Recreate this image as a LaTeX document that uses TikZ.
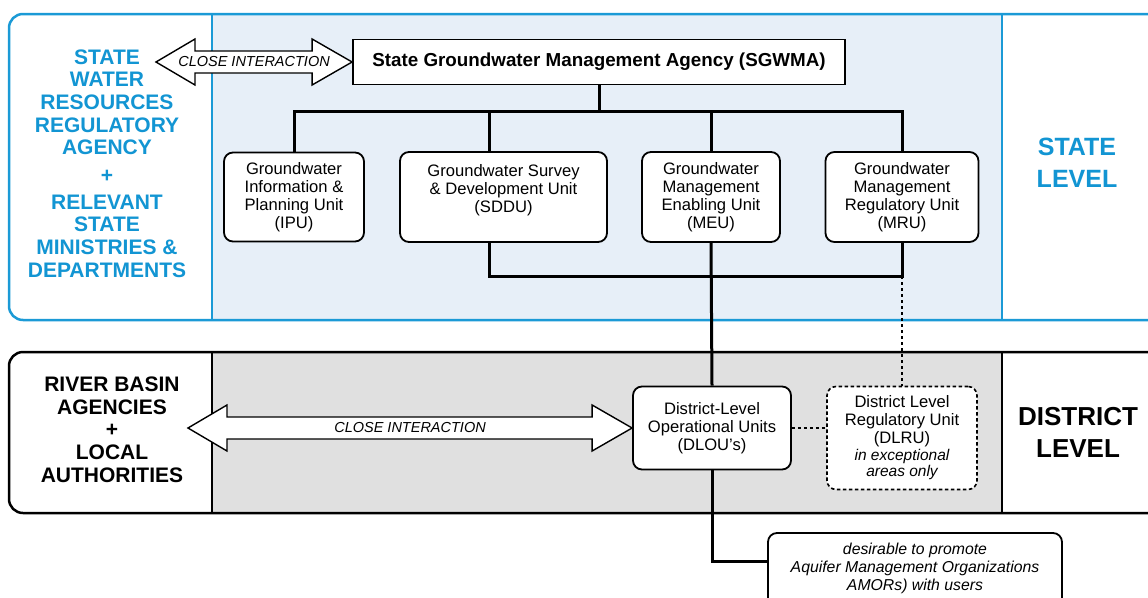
\documentclass[tikz,border=0pt]{standalone}
\usepackage{fontspec}
\setmainfont{Liberation Sans}
\usetikzlibrary{calc}
\definecolor{bord}{HTML}{1B9AD6}
\definecolor{bluetxt}{HTML}{1295D3}
\definecolor{lightbl}{HTML}{E7EFF8}
\definecolor{greyfill}{HTML}{E0E0E0}
\tikzset{
  unitbox/.style={draw=black, line width=1.8pt, fill=white, rounded corners=9pt, align=center, inner sep=2pt, font=\fontsize{16.6}{18}\selectfont},
  conn/.style={draw=black, line width=3pt, line join=miter},
  dotline/.style={draw=black, line width=1.6pt, dash pattern=on 3pt off 3pt},
  fatarrow/.style={fill=white, draw=black, line width=1.4pt, line join=miter},
  ilabel/.style={font=\fontsize{14.5}{16}\selectfont\itshape},
  sidetext/.style={align=center, font=\fontsize{21}{22.7}\selectfont\bfseries},
  leveltext/.style={align=center, font=\fontsize{25}{32}\selectfont\bfseries},
}
\newcommand\fatarrowpath[2]{%
  \path let \p1=(#1), \p2=(#2) in [fatarrow]
    (\x1,\y1) -- (\x1+39,\y1+23) -- (\x1+39,\y1+11) -- (\x2-40,\y1+11) -- (\x2-40,\y1+23)
    -- (\x2,\y1) -- (\x2-40,\y1-23) -- (\x2-40,\y1-11) -- (\x1+39,\y1-11) -- (\x1+39,\y1-23) -- cycle;}
\begin{document}
\begin{tikzpicture}[x=1pt,y=-1pt]
\useasboundingbox (0,0) rectangle (1148,597);
\clip (0,0) rectangle (1148,597);

% ---------- state level band ----------
\fill[white] (9,14) rectangle (1170,320);
\fill[lightbl] (212,14) rectangle (1002,320);
\draw[bord, line width=1.5pt] (212,14) -- (212,320) (1002,14) -- (1002,320);
\draw[bord, line width=2.5pt, rounded corners=14pt] (9,14) rectangle (1170,320);

% ---------- district level band ----------
\fill[white] (9,352) rectangle (1170,513);
\fill[greyfill] (212,352) rectangle (1002,513);
\draw[black, line width=1.5pt] (212,352) -- (212,513) (1002,352) -- (1002,513);
\draw[black, line width=2.5pt, rounded corners=14pt] (9,352) rectangle (1170,513);

% ---------- side texts ----------
\node[sidetext, text=bluetxt] (stateag) at (107,163.5)
  {STATE\\WATER\\RESOURCES\\REGULATORY\\AGENCY\\[4.5pt]+\\[4.5pt]RELEVANT\\STATE\\MINISTRIES \&\\DEPARTMENTS};
\node[sidetext, text=black] (rivbasin) at (112,429.5)
  {RIVER BASIN\\AGENCIES\\+\\LOCAL\\AUTHORITIES};
\node[leveltext, text=bluetxt] (statelevel) at (1077,163) {STATE\\LEVEL};
\node[leveltext, text=black, font=\fontsize{26}{32}\selectfont\bfseries] (distlevel) at (1078,432) {DISTRICT\\LEVEL};

% ---------- nodes ----------
\node[draw=black, line width=1.8pt, fill=white, minimum width=492pt, minimum height=45pt,
      inner sep=0pt, font=\fontsize{18.8}{20}\selectfont\bfseries] (sgwma) at (599,62)
  {State Groundwater Management Agency (SGWMA)};
\node[unitbox, minimum width=140pt, minimum height=89pt] (ipu) at (294,197)
  {Groundwater\\Information \&\\Planning Unit\\(IPU)};
\node[unitbox, minimum width=207pt, minimum height=90pt] (sddu) at (503.5,197)
  {Groundwater Survey\\\& Development Unit\\(SDDU)\\\mbox{}};
\node[unitbox, minimum width=138pt, minimum height=90pt] (meu) at (711,197)
  {Groundwater\\Management\\Enabling Unit\\(MEU)};
\node[unitbox, minimum width=153pt, minimum height=90pt] (mru) at (902,197)
  {Groundwater\\Management\\Regulatory Unit\\(MRU)};
\node[unitbox, minimum width=158pt, minimum height=83pt] (dlou) at (712,428)
  {District-Level\\Operational Units\\(DLOU’s)};
\node[unitbox, dash pattern=on 3.5pt off 2.5pt, line width=1.6pt, fill=white, minimum width=150pt, minimum height=103pt] (dlru) at (902,438)
  {District Level\\Regulatory Unit\\(DLRU)\\[-1pt]{\itshape\fontsize{15.5}{16}\selectfont in exceptional}\\[-2pt]{\itshape\fontsize{15.5}{16}\selectfont areas only}};
\node[unitbox, minimum width=294pt, minimum height=86pt, font=\fontsize{15.8}{18}\selectfont\itshape] (amor) at (915,576)
  {desirable to promote\\Aquifer Management Organizations\\AMORs) with users\\\mbox{}};

% ---------- connectors ----------
\coordinate (busy) at (0,111);
\coordinate (bus2) at (0,276);
\draw[conn] (sgwma.south) -- (sgwma.south |- busy);
\draw[conn] (ipu.north) |- (mru.north |- busy) -- (mru.north);
\draw[conn] ([xshift=-14.5pt]sddu.north) -- ([xshift=-14.5pt]sddu.north |- busy);
\draw[conn] (meu.north) -- (meu.north |- busy);
\draw[dotline] (mru.south |- bus2) -- (dlru.north);
\draw[conn] ([xshift=-14.5pt]sddu.south) |- (mru.south |- bus2) -- (mru.south);
\draw[conn] (meu.south) -- (dlou.north);
\draw[conn] (dlou.south) |- ([yshift=15pt]amor.west);
\draw[dotline] (dlou.east) -- (dlou.east -| dlru.west);

% ---------- close interaction arrows ----------
\coordinate (ciTop) at (156,62);
\fatarrowpath{ciTop}{sgwma.west}
\node[ilabel] (ciTopLabel) at ($(ciTop)!0.5!(sgwma.west)$) {CLOSE INTERACTION};
\coordinate (ciBot) at (188,428);
\fatarrowpath{ciBot}{dlou.west}
\node[ilabel] (ciBotLabel) at ($(ciBot)!0.5!(dlou.west)$) {CLOSE INTERACTION};
\end{tikzpicture}
\end{document}
